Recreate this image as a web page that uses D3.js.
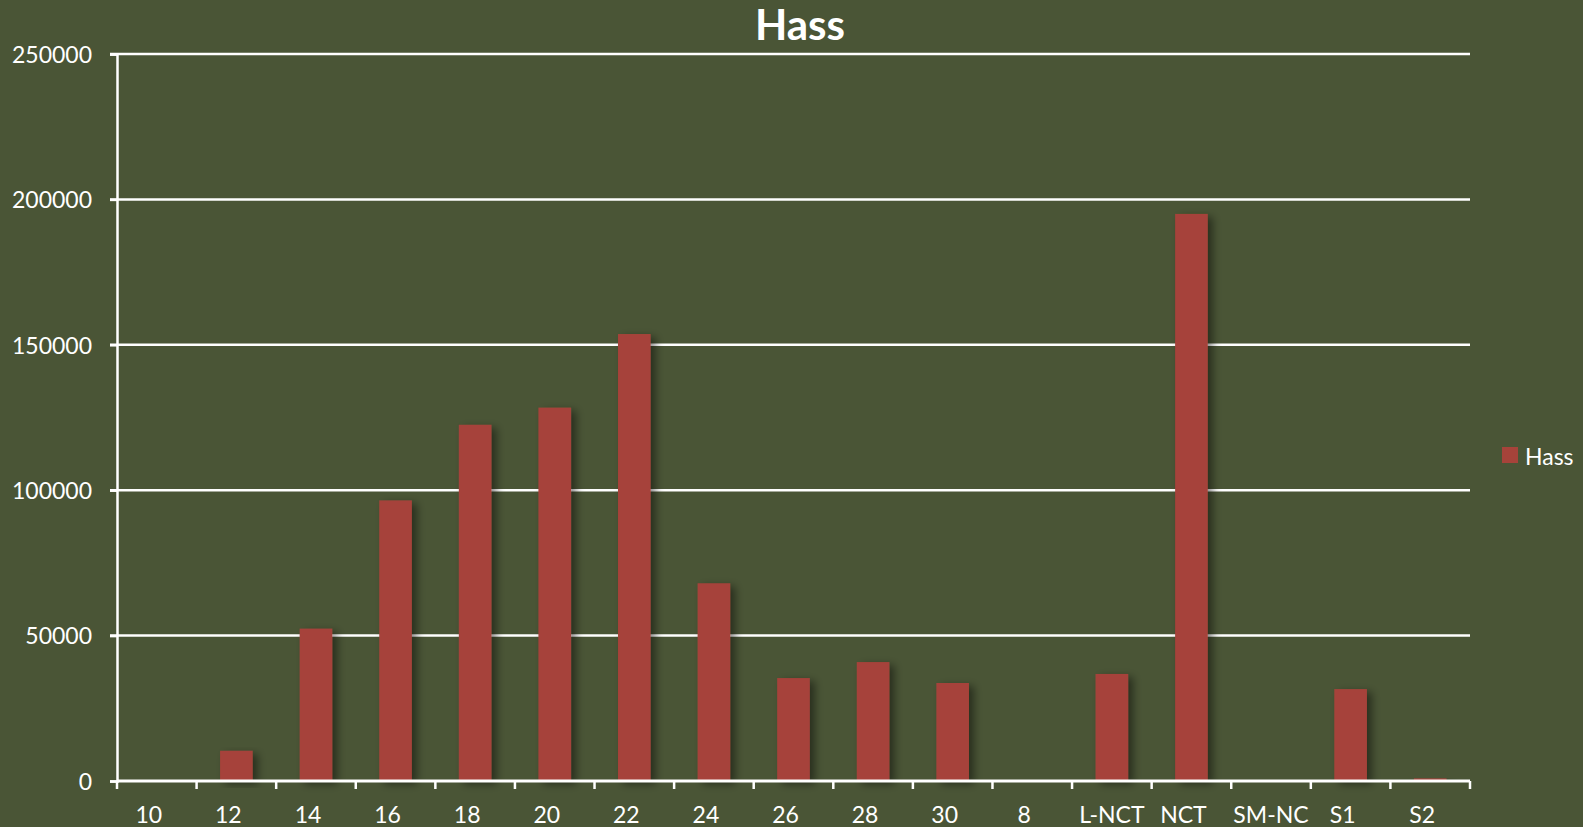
<!DOCTYPE html>
<html>
<head>
<meta charset="utf-8">
<script src="https://cdn.jsdelivr.net/npm/d3@7"></script>
<style>
  html, body { margin: 0; padding: 0; background: #4a5536; }
  text { font-family: Lato, "Open Sans", sans-serif; fill: #fff; }
</style>
</head>
<body>
<div id="chart"></div>
<script>
// data
var categories = ["10", "12", "14", "16", "18", "20", "22", "24", "26", "28", "30", "8", "L-NCT", "NCT", "SM-NC", "S1", "S2"];
var hassValues = [0, 10400, 52400, 96500, 122500, 128400, 153700, 68000, 35400, 40900, 33700, 0, 36800, 195000, 0, 31600, 900];
var yTicks = [0, 50000, 100000, 150000, 200000, 250000];

var svgWidth = 1583;
var svgHeight = 827;

var margin = { top: 54, right: 113, bottom: 46, left: 117 };
var width = svgWidth - margin.left - margin.right;
var height = svgHeight - margin.top - margin.bottom;

var svg = d3.select("#chart")
    .append("svg")
    .attr("width", svgWidth)
    .attr("height", svgHeight);

svg.append("rect")
    .attr("width", svgWidth)
    .attr("height", svgHeight)
    .attr("fill", "#4a5536");

// shadow for bars
var defs = svg.append("defs");
var f = defs.append("filter").attr("id", "shadow")
    .attr("x", "-30%").attr("y", "-10%").attr("width", "180%").attr("height", "130%");
f.append("feDropShadow")
    .attr("dx", 5).attr("dy", 3)
    .attr("stdDeviation", 4)
    .attr("flood-color", "#000")
    .attr("flood-opacity", 0.45);

var chartGroup = svg.append("g")
    .attr("transform", `translate(${margin.left}, ${margin.top})`);

var x = d3.scaleBand()
    .domain(categories)
    .range([0, width])
    .paddingInner(0.59)
    .paddingOuter(0.295);

var xTicks = d3.scaleBand().domain(categories).range([0, width]);

var y = d3.scaleLinear()
    .domain([0, 250000])
    .range([height, 0]);

// gridlines
chartGroup.selectAll("line.grid")
    .data(yTicks.filter(d => d > 0))
    .enter()
    .append("line")
    .attr("class", "grid")
    .attr("x1", -7)
    .attr("x2", width)
    .attr("y1", d => y(d))
    .attr("y2", d => y(d))
    .attr("stroke", "#fff")
    .attr("stroke-width", 2.5);

// bars
chartGroup.selectAll("rect.bar")
    .data(hassValues)
    .enter()
    .append("rect")
    .attr("class", "bar")
    .attr("x", (d, i) => x(categories[i]))
    .attr("y", d => y(d))
    .attr("width", x.bandwidth())
    .attr("height", d => height - y(d))
    .attr("fill", "#a6433a")
    .attr("filter", d => d > 0 ? "url(#shadow)" : null);

// y axis
var leftAxis = d3.axisLeft(y).tickValues(yTicks).tickSize(7).tickFormat(d3.format("d"));
var gy = chartGroup.append("g").call(leftAxis);
gy.select(".domain").attr("stroke", "#fff").attr("stroke-width", 2.5);
gy.selectAll(".tick line").attr("stroke", "#fff").attr("stroke-width", 2.5);
gy.selectAll(".tick text")
    .attr("x", -25)
    .attr("dy", "0.36em")
    .style("font-size", "23px")
    .attr("fill", "#fff");

// x axis: ticks at band boundaries
var gx = chartGroup.append("g").attr("transform", `translate(0, ${height})`);
gx.append("line")
    .attr("x1", 0).attr("x2", width)
    .attr("y1", 0).attr("y2", 0)
    .attr("stroke", "#fff").attr("stroke-width", 3);
var bounds = categories.map(c => xTicks(c)).concat([width]);
gx.selectAll("line.xt")
    .data(bounds)
    .enter()
    .append("line")
    .attr("class", "xt")
    .attr("x1", d => d).attr("x2", d => d)
    .attr("y1", 0).attr("y2", 8)
    .attr("stroke", "#fff").attr("stroke-width", 2.5);
gx.selectAll("text")
    .data(categories)
    .enter()
    .append("text")
    .attr("x", d => xTicks(d) + xTicks.bandwidth() / 2 + (d.length >= 5 ? 0 : -8))
    .attr("y", 42)
    .attr("text-anchor", "middle")
    .style("font-size", "23px")
    .text(d => d);

// title
svg.append("text")
    .attr("x", 800)
    .attr("y", 40)
    .attr("text-anchor", "middle")
    .style("font-size", "42px")
    .style("font-weight", "bold")
    .text("Hass");

// legend
svg.append("rect")
    .attr("x", 1502).attr("y", 447)
    .attr("width", 16).attr("height", 16)
    .attr("fill", "#a6433a");
svg.append("text")
    .attr("x", 1525).attr("y", 465)
    .style("font-size", "23px")
    .text("Hass");
</script>
</body>
</html>
